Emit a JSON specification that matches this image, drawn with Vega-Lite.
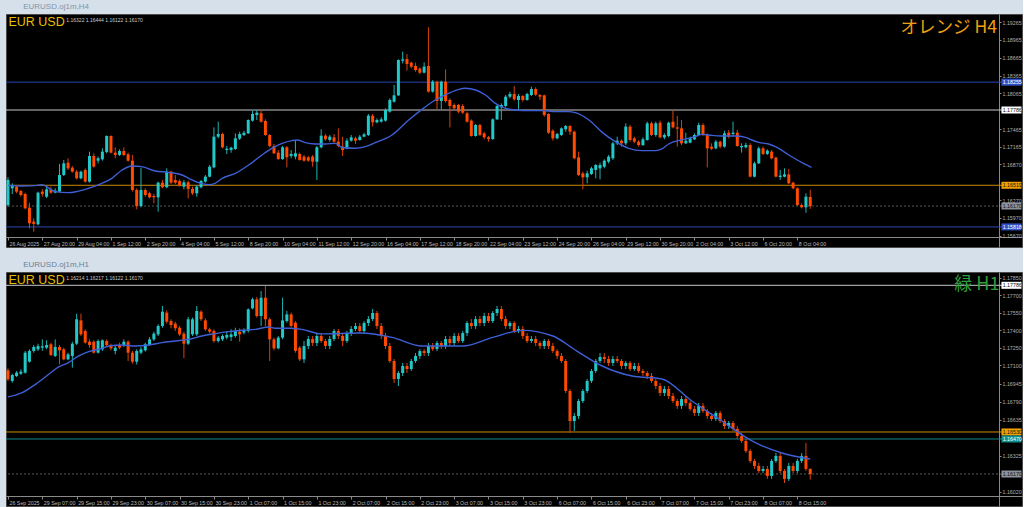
{
"$schema":"https://vega.github.io/schema/vega-lite/v6.json",
"background":"#d5e0eb",
"padding":{"left":4,"top":2,"right":0,"bottom":0},
"spacing":12,
"config":{"view":{"fill":"#000000","stroke":"#4a4a4a"},"axis":{"grid":false,"title":null,"tickCount":100,"labelOverlap":false,"labelFlush":false,"labelFont":"Liberation Sans","labelFontSize":5.3,"tickColor":"#8a8a8a","domainColor":"#8a8a8a"}},
"datasets":{
"h4":[
{"i":0,"o":1.16187,"h":1.16653,"l":1.16159,"c":1.16608},{"i":1,"o":1.16468,"h":1.16552,"l":1.16372,"c":1.16513},{"i":2,"o":1.16496,"h":1.16518,"l":1.16384,"c":1.16412},{"i":3,"o":1.16423,"h":1.1644,"l":1.16327,"c":1.16355},{"i":4,"o":1.16373,"h":1.16395,"l":1.16114,"c":1.16131},{"i":5,"o":1.16142,"h":1.16226,"l":1.15794,"c":1.15879},{"i":6,"o":1.15907,"h":1.15963,"l":1.15738,"c":1.15868},{"i":7,"o":1.15862,"h":1.16412,"l":1.15845,"c":1.16395},{"i":8,"o":1.16412,"h":1.16451,"l":1.16327,"c":1.16373},{"i":9,"o":1.16327,"h":1.16496,"l":1.16305,"c":1.16451},
{"i":10,"o":1.16451,"h":1.16496,"l":1.16373,"c":1.16395},{"i":11,"o":1.16395,"h":1.16468,"l":1.16384,"c":1.16429},{"i":12,"o":1.16412,"h":1.16877,"l":1.16395,"c":1.16692},{"i":13,"o":1.16692,"h":1.16945,"l":1.16675,"c":1.16888},{"i":14,"o":1.16899,"h":1.16973,"l":1.16776,"c":1.16804},{"i":15,"o":1.16815,"h":1.16843,"l":1.16731,"c":1.16748},{"i":16,"o":1.16748,"h":1.16776,"l":1.16619,"c":1.16636},{"i":17,"o":1.16636,"h":1.16765,"l":1.16619,"c":1.16748},{"i":18,"o":1.16776,"h":1.16804,"l":1.16563,"c":1.1658},{"i":19,"o":1.1658,"h":1.17085,"l":1.16563,"c":1.17012},
{"i":20,"o":1.17012,"h":1.17057,"l":1.16815,"c":1.16832},{"i":21,"o":1.16933,"h":1.17001,"l":1.16888,"c":1.16973},{"i":22,"o":1.16956,"h":1.17141,"l":1.16933,"c":1.17085},{"i":23,"o":1.17079,"h":1.17359,"l":1.17057,"c":1.17348},{"i":24,"o":1.17348,"h":1.17359,"l":1.17057,"c":1.17068},{"i":25,"o":1.17068,"h":1.17158,"l":1.16973,"c":1.17029},{"i":26,"o":1.17029,"h":1.17124,"l":1.17012,"c":1.17096},{"i":27,"o":1.17096,"h":1.17158,"l":1.17012,"c":1.17029},{"i":28,"o":1.1704,"h":1.17068,"l":1.16916,"c":1.16933},{"i":29,"o":1.16933,"h":1.17029,"l":1.16412,"c":1.1644},
{"i":30,"o":1.1644,"h":1.16468,"l":1.16114,"c":1.1617},{"i":31,"o":1.1617,"h":1.16815,"l":1.16148,"c":1.1644},{"i":32,"o":1.1644,"h":1.16468,"l":1.16327,"c":1.16355},{"i":33,"o":1.16384,"h":1.16412,"l":1.16299,"c":1.16316},{"i":34,"o":1.16339,"h":1.16373,"l":1.16215,"c":1.16316},{"i":35,"o":1.16316,"h":1.1658,"l":1.16075,"c":1.16563},{"i":36,"o":1.16563,"h":1.16608,"l":1.16468,"c":1.16485},{"i":37,"o":1.16485,"h":1.16804,"l":1.16468,"c":1.16748},{"i":38,"o":1.16748,"h":1.16765,"l":1.16541,"c":1.16563},{"i":39,"o":1.16608,"h":1.16692,"l":1.16541,"c":1.16563},
{"i":40,"o":1.16591,"h":1.16619,"l":1.16496,"c":1.16513},{"i":41,"o":1.16496,"h":1.16608,"l":1.16451,"c":1.16569},{"i":42,"o":1.16569,"h":1.16597,"l":1.16299,"c":1.16457},{"i":43,"o":1.16457,"h":1.16496,"l":1.16355,"c":1.16384},{"i":44,"o":1.16384,"h":1.16524,"l":1.16327,"c":1.16496},{"i":45,"o":1.16485,"h":1.16608,"l":1.16468,"c":1.16591},{"i":46,"o":1.1658,"h":1.16692,"l":1.16563,"c":1.16664},{"i":47,"o":1.16664,"h":1.1686,"l":1.16653,"c":1.16832},{"i":48,"o":1.16821,"h":1.17494,"l":1.16804,"c":1.17337},{"i":49,"o":1.17337,"h":1.1759,"l":1.17309,"c":1.17382},
{"i":50,"o":1.17382,"h":1.17404,"l":1.17141,"c":1.17158},{"i":51,"o":1.17113,"h":1.1718,"l":1.17046,"c":1.17135},{"i":52,"o":1.17113,"h":1.17169,"l":1.17068,"c":1.17152},{"i":53,"o":1.1713,"h":1.17393,"l":1.17113,"c":1.17309},{"i":54,"o":1.17304,"h":1.17421,"l":1.17281,"c":1.17382},{"i":55,"o":1.17365,"h":1.17438,"l":1.17348,"c":1.17404},{"i":56,"o":1.17393,"h":1.17629,"l":1.17382,"c":1.17618},{"i":57,"o":1.17607,"h":1.17775,"l":1.1759,"c":1.17719},{"i":58,"o":1.17702,"h":1.17786,"l":1.17618,"c":1.17741},{"i":59,"o":1.1773,"h":1.17797,"l":1.17573,"c":1.1759},
{"i":60,"o":1.17601,"h":1.17629,"l":1.17348,"c":1.17365},{"i":61,"o":1.17365,"h":1.17382,"l":1.17158,"c":1.1718},{"i":62,"o":1.1718,"h":1.17214,"l":1.17046,"c":1.17057},{"i":63,"o":1.17068,"h":1.17113,"l":1.16945,"c":1.16961},{"i":64,"o":1.16961,"h":1.1718,"l":1.16945,"c":1.17158},{"i":65,"o":1.17158,"h":1.1718,"l":1.16821,"c":1.1699},{"i":66,"o":1.17012,"h":1.17113,"l":1.16973,"c":1.17046},{"i":67,"o":1.17001,"h":1.17281,"l":1.16956,"c":1.17057},{"i":68,"o":1.17046,"h":1.17068,"l":1.16933,"c":1.16945},{"i":69,"o":1.17001,"h":1.17029,"l":1.16916,"c":1.16933},
{"i":70,"o":1.1699,"h":1.17012,"l":1.16916,"c":1.16933},{"i":71,"o":1.17001,"h":1.17029,"l":1.16832,"c":1.16916},{"i":72,"o":1.16916,"h":1.1718,"l":1.16608,"c":1.17158},{"i":73,"o":1.17158,"h":1.17461,"l":1.17141,"c":1.17354},{"i":74,"o":1.17354,"h":1.17382,"l":1.1727,"c":1.17292},{"i":75,"o":1.17281,"h":1.17365,"l":1.17253,"c":1.17337},{"i":76,"o":1.17326,"h":1.17382,"l":1.17236,"c":1.17253},{"i":77,"o":1.17253,"h":1.17478,"l":1.17158,"c":1.1718},{"i":78,"o":1.17169,"h":1.17337,"l":1.17012,"c":1.17113},{"i":79,"o":1.17141,"h":1.17309,"l":1.17124,"c":1.1727},
{"i":80,"o":1.1727,"h":1.17365,"l":1.17253,"c":1.17326},{"i":81,"o":1.17309,"h":1.17337,"l":1.17214,"c":1.1727},{"i":82,"o":1.17281,"h":1.17365,"l":1.1727,"c":1.17337},{"i":83,"o":1.17337,"h":1.17404,"l":1.17326,"c":1.17376},{"i":84,"o":1.17365,"h":1.17719,"l":1.17348,"c":1.17691},{"i":85,"o":1.17691,"h":1.17719,"l":1.17506,"c":1.17578},{"i":86,"o":1.17578,"h":1.17646,"l":1.17562,"c":1.17618},{"i":87,"o":1.1759,"h":1.17663,"l":1.17573,"c":1.17629},{"i":88,"o":1.17607,"h":1.17814,"l":1.1759,"c":1.17786},{"i":89,"o":1.17758,"h":1.17982,"l":1.17741,"c":1.17954},
{"i":90,"o":1.17926,"h":1.18207,"l":1.1791,"c":1.18033},{"i":91,"o":1.18033,"h":1.18639,"l":1.18022,"c":1.18628},{"i":92,"o":1.18616,"h":1.18768,"l":1.18571,"c":1.18639},{"i":93,"o":1.18644,"h":1.18728,"l":1.18448,"c":1.1856},{"i":94,"o":1.18583,"h":1.18599,"l":1.18487,"c":1.18515},{"i":95,"o":1.18527,"h":1.18583,"l":1.18431,"c":1.18459},{"i":96,"o":1.18482,"h":1.18504,"l":1.18392,"c":1.18414},{"i":97,"o":1.18414,"h":1.18588,"l":1.18403,"c":1.18515},{"i":98,"o":1.18527,"h":1.19177,"l":1.18078,"c":1.18095},{"i":99,"o":1.18095,"h":1.18291,"l":1.18078,"c":1.18263},
{"i":100,"o":1.18263,"h":1.1828,"l":1.17797,"c":1.17937},{"i":101,"o":1.17937,"h":1.1828,"l":1.17797,"c":1.18263},{"i":102,"o":1.18263,"h":1.1847,"l":1.1791,"c":1.17937},{"i":103,"o":1.17954,"h":1.17982,"l":1.17494,"c":1.17853},{"i":104,"o":1.1787,"h":1.17898,"l":1.17797,"c":1.17814},{"i":105,"o":1.1787,"h":1.17887,"l":1.1773,"c":1.17758},{"i":106,"o":1.17853,"h":1.17887,"l":1.17719,"c":1.17741},{"i":107,"o":1.1773,"h":1.17758,"l":1.17573,"c":1.1759},{"i":108,"o":1.17607,"h":1.17629,"l":1.17337,"c":1.17348},{"i":109,"o":1.17348,"h":1.1755,"l":1.17337,"c":1.17534},
{"i":110,"o":1.17534,"h":1.1755,"l":1.17348,"c":1.17365},{"i":111,"o":1.17393,"h":1.17421,"l":1.17292,"c":1.17326},{"i":112,"o":1.17326,"h":1.17348,"l":1.17253,"c":1.17298},{"i":113,"o":1.17298,"h":1.17646,"l":1.17281,"c":1.17629},{"i":114,"o":1.17629,"h":1.1787,"l":1.17618,"c":1.17853},{"i":115,"o":1.17831,"h":1.17898,"l":1.17618,"c":1.1787},{"i":116,"o":1.17853,"h":1.18038,"l":1.17831,"c":1.1801},{"i":117,"o":1.1801,"h":1.18095,"l":1.17982,"c":1.18055},{"i":118,"o":1.18055,"h":1.1819,"l":1.17943,"c":1.17966},{"i":119,"o":1.17954,"h":1.18055,"l":1.17797,"c":1.18022},
{"i":120,"o":1.18022,"h":1.18038,"l":1.17926,"c":1.17954},{"i":121,"o":1.17954,"h":1.18078,"l":1.17943,"c":1.18055},{"i":122,"o":1.18038,"h":1.18179,"l":1.18022,"c":1.18139},{"i":123,"o":1.18139,"h":1.18167,"l":1.18022,"c":1.18044},{"i":124,"o":1.18038,"h":1.18055,"l":1.17954,"c":1.1801},{"i":125,"o":1.18033,"h":1.18044,"l":1.17674,"c":1.17702},{"i":126,"o":1.17719,"h":1.1773,"l":1.17382,"c":1.17404},{"i":127,"o":1.17438,"h":1.17461,"l":1.1727,"c":1.17309},{"i":128,"o":1.17309,"h":1.17404,"l":1.17292,"c":1.17382},{"i":129,"o":1.17365,"h":1.17494,"l":1.17348,"c":1.17477},
{"i":130,"o":1.17461,"h":1.17534,"l":1.17421,"c":1.17517},{"i":131,"o":1.17517,"h":1.17534,"l":1.17365,"c":1.17421},{"i":132,"o":1.17421,"h":1.17438,"l":1.16956,"c":1.16973},{"i":133,"o":1.16989,"h":1.17085,"l":1.16675,"c":1.16692},{"i":134,"o":1.1672,"h":1.16748,"l":1.16451,"c":1.16653},{"i":135,"o":1.16653,"h":1.16765,"l":1.16552,"c":1.1672},{"i":136,"o":1.16709,"h":1.16832,"l":1.16692,"c":1.16804},{"i":137,"o":1.16776,"h":1.16877,"l":1.16636,"c":1.1686},{"i":138,"o":1.16804,"h":1.16899,"l":1.16619,"c":1.1686},{"i":139,"o":1.16832,"h":1.16956,"l":1.16804,"c":1.16933},
{"i":140,"o":1.16916,"h":1.17029,"l":1.16888,"c":1.17001},{"i":141,"o":1.16973,"h":1.17253,"l":1.16945,"c":1.17225},{"i":142,"o":1.17225,"h":1.17337,"l":1.17197,"c":1.1727},{"i":143,"o":1.1727,"h":1.17292,"l":1.17169,"c":1.17225},{"i":144,"o":1.17225,"h":1.17562,"l":1.17197,"c":1.17506},{"i":145,"o":1.17506,"h":1.17534,"l":1.17253,"c":1.17281},{"i":146,"o":1.17309,"h":1.17337,"l":1.17225,"c":1.17253},{"i":147,"o":1.17253,"h":1.17281,"l":1.17169,"c":1.17197},{"i":148,"o":1.17197,"h":1.17326,"l":1.1718,"c":1.17292},{"i":149,"o":1.17281,"h":1.1759,"l":1.1727,"c":1.17562},
{"i":150,"o":1.17562,"h":1.1759,"l":1.17348,"c":1.17365},{"i":151,"o":1.17365,"h":1.1759,"l":1.17337,"c":1.17562},{"i":152,"o":1.17573,"h":1.17607,"l":1.17309,"c":1.17326},{"i":153,"o":1.17326,"h":1.17393,"l":1.17292,"c":1.17365},{"i":154,"o":1.17348,"h":1.1759,"l":1.17326,"c":1.17573},{"i":155,"o":1.1759,"h":1.17775,"l":1.17477,"c":1.17494},{"i":156,"o":1.17494,"h":1.17685,"l":1.17169,"c":1.17472},{"i":157,"o":1.17477,"h":1.17618,"l":1.17197,"c":1.17225},{"i":158,"o":1.17225,"h":1.17404,"l":1.17214,"c":1.1727},{"i":159,"o":1.17236,"h":1.17337,"l":1.17225,"c":1.17309},
{"i":160,"o":1.17292,"h":1.17393,"l":1.17281,"c":1.17365},{"i":161,"o":1.17365,"h":1.17573,"l":1.17348,"c":1.17534},{"i":162,"o":1.17534,"h":1.17562,"l":1.17348,"c":1.17365},{"i":163,"o":1.17365,"h":1.17393,"l":1.16821,"c":1.17141},{"i":164,"o":1.17169,"h":1.17225,"l":1.17113,"c":1.17135},{"i":165,"o":1.17141,"h":1.17281,"l":1.17124,"c":1.17253},{"i":166,"o":1.17253,"h":1.1727,"l":1.17141,"c":1.17169},{"i":167,"o":1.17169,"h":1.17438,"l":1.17152,"c":1.17393},{"i":168,"o":1.17404,"h":1.17449,"l":1.17309,"c":1.17337},{"i":169,"o":1.17382,"h":1.1759,"l":1.17348,"c":1.17404},
{"i":170,"o":1.17404,"h":1.17449,"l":1.17169,"c":1.1718},{"i":171,"o":1.17158,"h":1.17225,"l":1.17068,"c":1.1718},{"i":172,"o":1.17158,"h":1.17236,"l":1.17141,"c":1.17197},{"i":173,"o":1.17197,"h":1.17225,"l":1.16653,"c":1.16664},{"i":174,"o":1.16664,"h":1.16916,"l":1.16653,"c":1.16888},{"i":175,"o":1.16888,"h":1.17169,"l":1.16877,"c":1.17141},{"i":176,"o":1.17141,"h":1.17169,"l":1.17029,"c":1.17046},{"i":177,"o":1.17046,"h":1.17124,"l":1.17029,"c":1.17102},{"i":178,"o":1.17085,"h":1.17113,"l":1.16956,"c":1.16973},{"i":179,"o":1.16984,"h":1.17001,"l":1.16653,"c":1.16664},
{"i":180,"o":1.16658,"h":1.16776,"l":1.16608,"c":1.16681},{"i":181,"o":1.16664,"h":1.16804,"l":1.16653,"c":1.16703},{"i":182,"o":1.16703,"h":1.16793,"l":1.16541,"c":1.16552},{"i":183,"o":1.16563,"h":1.1658,"l":1.16451,"c":1.16468},{"i":184,"o":1.16468,"h":1.16485,"l":1.1617,"c":1.16187},{"i":185,"o":1.16187,"h":1.16215,"l":1.16131,"c":1.16148},{"i":186,"o":1.16148,"h":1.16384,"l":1.16058,"c":1.16327},{"i":187,"o":1.16322,"h":1.16444,"l":1.16122,"c":1.1617}
],
"h4ma":[
{"i":0,"m":1.16518},{"i":3.3,"m":1.16507},{"i":6.4,"m":1.16513},{"i":7.9,"m":1.16529},{"i":11,"m":1.16412},{"i":14.1,"m":1.16395},{"i":18,"m":1.16451},{"i":21.9,"m":1.16552},{"i":24.2,"m":1.16636},{"i":26.6,"m":1.16776},{"i":28.9,"m":1.16843},{"i":31.2,"m":1.16832},{"i":34.3,"m":1.16759},{"i":37.5,"m":1.16737},{"i":40.6,"m":1.16692},{"i":42.1,"m":1.16636},{"i":44.4,"m":1.16563},{"i":46.8,"m":1.16529},{"i":48.3,"m":1.16552},{"i":49.9,"m":1.16636},{"i":53,"m":1.1672},{"i":56.1,"m":1.1686},{"i":59.2,"m":1.17029},{"i":61.5,"m":1.17141},{"i":63.9,"m":1.17225},{"i":66.2,"m":1.1727},{"i":67.4,"m":1.17281},{"i":69.3,"m":1.17236},{"i":71.6,"m":1.17214},{"i":74,"m":1.17214},{"i":76.3,"m":1.17225},{"i":77.9,"m":1.17155},{"i":81,"m":1.17141},{"i":83.3,"m":1.17169},{"i":85.6,"m":1.17236},{"i":89.5,"m":1.17365},{"i":93.4,"m":1.17618},{"i":96.5,"m":1.17797},{"i":99.6,"m":1.17954},{"i":102.7,"m":1.18067},{"i":105.1,"m":1.18134},{"i":106.6,"m":1.18151},{"i":109,"m":1.18123},{"i":111.3,"m":1.18038},{"i":113.6,"m":1.17898},{"i":116,"m":1.17814},{"i":118.3,"m":1.17786},{"i":121.4,"m":1.17775},{"i":124.5,"m":1.17775},{"i":127.6,"m":1.17758},{"i":130.7,"m":1.17758},{"i":132.2,"m":1.17741},{"i":135.4,"m":1.17618},{"i":138.5,"m":1.1741},{"i":141.6,"m":1.17253},{"i":144.7,"m":1.17141},{"i":147.8,"m":1.17102},{"i":150.9,"m":1.17102},{"i":152.4,"m":1.1713},{"i":154,"m":1.17214},{"i":157.1,"m":1.17285},{"i":160.2,"m":1.17337},{"i":161.8,"m":1.17376},{"i":163.3,"m":1.17365},{"i":166.4,"m":1.17348},{"i":169.5,"m":1.17348},{"i":171.9,"m":1.17326},{"i":173.4,"m":1.17281},{"i":175,"m":1.17242},{"i":177.3,"m":1.17214},{"i":178.9,"m":1.17169},{"i":182,"m":1.17029},{"i":185.1,"m":1.169},{"i":187.3,"m":1.16821}
],
"h4lines":[{"p":1.18255,"k":"blue"},{"p":1.17786,"k":"white"},{"p":1.16519,"k":"orange"},{"p":1.1617,"k":"bid"},{"p":1.15818,"k":"blue"}],
"h1":[
{"i":0,"o":1.17058,"h":1.17075,"l":1.16967,"c":1.16981},{"i":1,"o":1.16967,"h":1.17029,"l":1.16952,"c":1.17018},{"i":2,"o":1.17009,"h":1.17052,"l":1.17001,"c":1.17038},{"i":3,"o":1.17029,"h":1.17067,"l":1.17018,"c":1.17047},{"i":4,"o":1.17038,"h":1.17224,"l":1.17029,"c":1.17209},{"i":5,"o":1.17132,"h":1.17238,"l":1.17124,"c":1.17224},{"i":6,"o":1.17224,"h":1.17275,"l":1.17209,"c":1.17258},{"i":7,"o":1.17238,"h":1.17286,"l":1.17224,"c":1.17266},{"i":8,"o":1.17252,"h":1.17323,"l":1.17224,"c":1.17264},{"i":9,"o":1.17252,"h":1.17315,"l":1.17238,"c":1.17275},
{"i":10,"o":1.17281,"h":1.17295,"l":1.17181,"c":1.17189},{"i":11,"o":1.17181,"h":1.17323,"l":1.17172,"c":1.17258},{"i":12,"o":1.17258,"h":1.17275,"l":1.17109,"c":1.17229},{"i":13,"o":1.17238,"h":1.17252,"l":1.17144,"c":1.17152},{"i":14,"o":1.17152,"h":1.17209,"l":1.17144,"c":1.17195},{"i":15,"o":1.17181,"h":1.17303,"l":1.17081,"c":1.17286},{"i":16,"o":1.17286,"h":1.17543,"l":1.17275,"c":1.17495},{"i":17,"o":1.17486,"h":1.17543,"l":1.17352,"c":1.17366},{"i":18,"o":1.17395,"h":1.17409,"l":1.17286,"c":1.17295},{"i":19,"o":1.17303,"h":1.17323,"l":1.17252,"c":1.17275},
{"i":20,"o":1.17303,"h":1.17315,"l":1.17201,"c":1.17209},{"i":21,"o":1.17209,"h":1.17323,"l":1.17201,"c":1.17309},{"i":22,"o":1.17238,"h":1.17323,"l":1.17224,"c":1.17315},{"i":23,"o":1.17309,"h":1.17323,"l":1.17258,"c":1.17275},{"i":24,"o":1.17275,"h":1.17286,"l":1.17229,"c":1.17246},{"i":25,"o":1.17224,"h":1.17275,"l":1.17195,"c":1.17252},{"i":26,"o":1.17275,"h":1.17295,"l":1.17238,"c":1.17252},{"i":27,"o":1.17275,"h":1.17323,"l":1.17258,"c":1.17303},{"i":28,"o":1.17303,"h":1.17315,"l":1.17138,"c":1.17209},{"i":29,"o":1.17209,"h":1.17224,"l":1.17115,"c":1.17132},
{"i":30,"o":1.17132,"h":1.17238,"l":1.17109,"c":1.17224},{"i":31,"o":1.17209,"h":1.17258,"l":1.17195,"c":1.17238},{"i":32,"o":1.17229,"h":1.17295,"l":1.17218,"c":1.17281},{"i":33,"o":1.17275,"h":1.17343,"l":1.17266,"c":1.17323},{"i":34,"o":1.17323,"h":1.17389,"l":1.17309,"c":1.17372},{"i":35,"o":1.17366,"h":1.17452,"l":1.17352,"c":1.17438},{"i":36,"o":1.17438,"h":1.17609,"l":1.17423,"c":1.1756},{"i":37,"o":1.17552,"h":1.17572,"l":1.17458,"c":1.17475},{"i":38,"o":1.1748,"h":1.17495,"l":1.17418,"c":1.17446},{"i":39,"o":1.17458,"h":1.17475,"l":1.17395,"c":1.17418},
{"i":40,"o":1.17423,"h":1.17438,"l":1.17352,"c":1.17366},{"i":41,"o":1.17372,"h":1.17389,"l":1.17161,"c":1.17286},{"i":42,"o":1.17286,"h":1.17515,"l":1.17275,"c":1.17495},{"i":43,"o":1.17366,"h":1.17509,"l":1.17352,"c":1.17495},{"i":44,"o":1.17366,"h":1.17609,"l":1.17352,"c":1.17566},{"i":45,"o":1.1756,"h":1.17572,"l":1.1748,"c":1.17495},{"i":46,"o":1.17486,"h":1.17503,"l":1.17395,"c":1.17409},{"i":47,"o":1.17409,"h":1.17423,"l":1.17372,"c":1.17389},{"i":48,"o":1.17395,"h":1.17409,"l":1.17295,"c":1.17309},{"i":49,"o":1.17309,"h":1.17352,"l":1.17295,"c":1.17338},
{"i":50,"o":1.17323,"h":1.17366,"l":1.17309,"c":1.17352},{"i":51,"o":1.17338,"h":1.17395,"l":1.17323,"c":1.17361},{"i":52,"o":1.17343,"h":1.17409,"l":1.17309,"c":1.17366},{"i":53,"o":1.17352,"h":1.17423,"l":1.17338,"c":1.17395},{"i":54,"o":1.17389,"h":1.17418,"l":1.17303,"c":1.17366},{"i":55,"o":1.17381,"h":1.17418,"l":1.17366,"c":1.17401},{"i":56,"o":1.17395,"h":1.17589,"l":1.17381,"c":1.1758},{"i":57,"o":1.17589,"h":1.1768,"l":1.1758,"c":1.17666},{"i":58,"o":1.17666,"h":1.17686,"l":1.17509,"c":1.17523},{"i":59,"o":1.17523,"h":1.17737,"l":1.17438,"c":1.1768},
{"i":60,"o":1.1768,"h":1.1778,"l":1.17438,"c":1.17495},{"i":61,"o":1.17495,"h":1.17509,"l":1.17138,"c":1.17323},{"i":62,"o":1.17323,"h":1.17338,"l":1.17229,"c":1.17246},{"i":63,"o":1.17246,"h":1.17352,"l":1.17238,"c":1.17338},{"i":64,"o":1.17338,"h":1.1768,"l":1.17323,"c":1.17486},{"i":65,"o":1.1748,"h":1.17566,"l":1.17466,"c":1.17537},{"i":66,"o":1.17537,"h":1.17552,"l":1.17423,"c":1.17438},{"i":67,"o":1.17466,"h":1.1748,"l":1.17209,"c":1.17224},{"i":68,"o":1.17252,"h":1.17266,"l":1.17138,"c":1.17152},{"i":69,"o":1.17152,"h":1.17309,"l":1.17121,"c":1.17266},
{"i":70,"o":1.17266,"h":1.17352,"l":1.1724,"c":1.17326},{"i":71,"o":1.17326,"h":1.17352,"l":1.17266,"c":1.17292},{"i":72,"o":1.17292,"h":1.17377,"l":1.17266,"c":1.17352},{"i":73,"o":1.17352,"h":1.17377,"l":1.17292,"c":1.17309},{"i":74,"o":1.17309,"h":1.17326,"l":1.1724,"c":1.17266},{"i":75,"o":1.17266,"h":1.17352,"l":1.1724,"c":1.17326},{"i":76,"o":1.17326,"h":1.17412,"l":1.17309,"c":1.17395},{"i":77,"o":1.17395,"h":1.17412,"l":1.17326,"c":1.17352},{"i":78,"o":1.17352,"h":1.17377,"l":1.17266,"c":1.17309},{"i":79,"o":1.17309,"h":1.17395,"l":1.17292,"c":1.17377},
{"i":80,"o":1.17377,"h":1.17437,"l":1.17352,"c":1.17412},{"i":81,"o":1.17412,"h":1.17463,"l":1.17395,"c":1.17437},{"i":82,"o":1.17437,"h":1.17463,"l":1.17377,"c":1.17395},{"i":83,"o":1.17395,"h":1.1748,"l":1.17377,"c":1.17463},{"i":84,"o":1.17463,"h":1.17523,"l":1.17437,"c":1.17497},{"i":85,"o":1.17497,"h":1.17583,"l":1.1748,"c":1.17549},{"i":86,"o":1.17549,"h":1.17566,"l":1.17412,"c":1.17437},{"i":87,"o":1.17437,"h":1.17463,"l":1.17326,"c":1.17352},{"i":88,"o":1.17352,"h":1.17377,"l":1.1724,"c":1.17266},{"i":89,"o":1.17266,"h":1.17292,"l":1.17121,"c":1.17138},
{"i":90,"o":1.17138,"h":1.17155,"l":1.16949,"c":1.16984},{"i":91,"o":1.16984,"h":1.17052,"l":1.16924,"c":1.17035},{"i":92,"o":1.17035,"h":1.17121,"l":1.17009,"c":1.17095},{"i":93,"o":1.17095,"h":1.17121,"l":1.17035,"c":1.17069},{"i":94,"o":1.17069,"h":1.17155,"l":1.17052,"c":1.17138},{"i":95,"o":1.17138,"h":1.17206,"l":1.17121,"c":1.17181},{"i":96,"o":1.17181,"h":1.1724,"l":1.17155,"c":1.17223},{"i":97,"o":1.17223,"h":1.1724,"l":1.17181,"c":1.17206},{"i":98,"o":1.17206,"h":1.17292,"l":1.17181,"c":1.17266},{"i":99,"o":1.17266,"h":1.17292,"l":1.17223,"c":1.1724},
{"i":100,"o":1.1724,"h":1.17309,"l":1.17223,"c":1.17292},{"i":101,"o":1.17292,"h":1.17309,"l":1.1724,"c":1.17266},{"i":102,"o":1.17266,"h":1.17352,"l":1.1724,"c":1.17326},{"i":103,"o":1.17326,"h":1.17352,"l":1.17266,"c":1.17292},{"i":104,"o":1.17292,"h":1.17377,"l":1.17266,"c":1.17352},{"i":105,"o":1.17352,"h":1.17377,"l":1.17292,"c":1.17309},{"i":106,"o":1.17309,"h":1.17395,"l":1.17292,"c":1.17377},{"i":107,"o":1.17377,"h":1.1748,"l":1.17352,"c":1.17463},{"i":108,"o":1.17463,"h":1.17497,"l":1.17412,"c":1.17437},{"i":109,"o":1.17437,"h":1.17523,"l":1.17412,"c":1.17497},
{"i":110,"o":1.17497,"h":1.17523,"l":1.17437,"c":1.17463},{"i":111,"o":1.17463,"h":1.17549,"l":1.17437,"c":1.17523},{"i":112,"o":1.17523,"h":1.17549,"l":1.17463,"c":1.1748},{"i":113,"o":1.1748,"h":1.17566,"l":1.17463,"c":1.17549},{"i":114,"o":1.17549,"h":1.17609,"l":1.17523,"c":1.17583},{"i":115,"o":1.17583,"h":1.17609,"l":1.1748,"c":1.17497},{"i":116,"o":1.17497,"h":1.17523,"l":1.17412,"c":1.17437},{"i":117,"o":1.17437,"h":1.1748,"l":1.17412,"c":1.17463},{"i":118,"o":1.17463,"h":1.1748,"l":1.17377,"c":1.17395},{"i":119,"o":1.17395,"h":1.17437,"l":1.17377,"c":1.17412},
{"i":120,"o":1.17412,"h":1.17437,"l":1.17326,"c":1.17352},{"i":121,"o":1.17352,"h":1.17377,"l":1.17292,"c":1.17309},{"i":122,"o":1.17309,"h":1.17352,"l":1.17292,"c":1.17326},{"i":123,"o":1.17326,"h":1.17352,"l":1.17266,"c":1.17292},{"i":124,"o":1.17292,"h":1.17309,"l":1.1724,"c":1.17266},{"i":125,"o":1.17266,"h":1.17326,"l":1.1724,"c":1.17309},{"i":126,"o":1.17309,"h":1.17326,"l":1.1724,"c":1.17266},{"i":127,"o":1.17266,"h":1.17292,"l":1.17206,"c":1.17223},{"i":128,"o":1.17223,"h":1.1724,"l":1.17155,"c":1.17181},{"i":129,"o":1.17181,"h":1.17206,"l":1.17121,"c":1.17138},
{"i":130,"o":1.17138,"h":1.17155,"l":1.16864,"c":1.16881},{"i":131,"o":1.16881,"h":1.16898,"l":1.16521,"c":1.16624},{"i":132,"o":1.16624,"h":1.16693,"l":1.16539,"c":1.16667},{"i":133,"o":1.16667,"h":1.16812,"l":1.16641,"c":1.16795},{"i":134,"o":1.16795,"h":1.16898,"l":1.16778,"c":1.16881},{"i":135,"o":1.16881,"h":1.16984,"l":1.16864,"c":1.16967},{"i":136,"o":1.16967,"h":1.17069,"l":1.16949,"c":1.17052},{"i":137,"o":1.17052,"h":1.17155,"l":1.17035,"c":1.17138},{"i":138,"o":1.17138,"h":1.17206,"l":1.17121,"c":1.17172},{"i":139,"o":1.17172,"h":1.17206,"l":1.17121,"c":1.17155},
{"i":140,"o":1.17155,"h":1.17181,"l":1.17095,"c":1.17121},{"i":141,"o":1.17121,"h":1.17181,"l":1.17095,"c":1.17155},{"i":142,"o":1.17155,"h":1.17181,"l":1.17121,"c":1.17138},{"i":143,"o":1.17138,"h":1.17155,"l":1.17069,"c":1.17095},{"i":144,"o":1.17095,"h":1.17138,"l":1.17069,"c":1.17121},{"i":145,"o":1.17121,"h":1.17138,"l":1.17052,"c":1.17069},{"i":146,"o":1.17069,"h":1.17121,"l":1.17052,"c":1.17095},{"i":147,"o":1.17095,"h":1.17121,"l":1.17035,"c":1.17052},{"i":148,"o":1.17052,"h":1.17069,"l":1.17009,"c":1.17035},{"i":149,"o":1.17035,"h":1.17052,"l":1.16984,"c":1.17009},
{"i":150,"o":1.17009,"h":1.17035,"l":1.16949,"c":1.16967},{"i":151,"o":1.16967,"h":1.16984,"l":1.16898,"c":1.16924},{"i":152,"o":1.16924,"h":1.16949,"l":1.16838,"c":1.16864},{"i":153,"o":1.16864,"h":1.16924,"l":1.16838,"c":1.16898},{"i":154,"o":1.16898,"h":1.16924,"l":1.16812,"c":1.16838},{"i":155,"o":1.16838,"h":1.16864,"l":1.16778,"c":1.16795},{"i":156,"o":1.16795,"h":1.16812,"l":1.16727,"c":1.16753},{"i":157,"o":1.16753,"h":1.16838,"l":1.16727,"c":1.16812},{"i":158,"o":1.16812,"h":1.16838,"l":1.16753,"c":1.16778},{"i":159,"o":1.16778,"h":1.16795,"l":1.1671,"c":1.16727},
{"i":160,"o":1.16727,"h":1.16753,"l":1.16667,"c":1.16693},{"i":161,"o":1.16693,"h":1.16778,"l":1.16667,"c":1.16753},{"i":162,"o":1.16753,"h":1.16778,"l":1.16693,"c":1.1671},{"i":163,"o":1.1671,"h":1.16727,"l":1.16641,"c":1.16667},{"i":164,"o":1.16667,"h":1.16693,"l":1.16624,"c":1.16641},{"i":165,"o":1.16641,"h":1.1671,"l":1.16624,"c":1.16693},{"i":166,"o":1.16693,"h":1.1671,"l":1.16607,"c":1.16624},{"i":167,"o":1.16624,"h":1.16641,"l":1.16556,"c":1.16581},{"i":168,"o":1.16581,"h":1.16624,"l":1.16556,"c":1.16607},{"i":169,"o":1.16607,"h":1.16624,"l":1.16539,"c":1.16556},
{"i":170,"o":1.16556,"h":1.16581,"l":1.1647,"c":1.16496},{"i":171,"o":1.16496,"h":1.16521,"l":1.16436,"c":1.16453},{"i":172,"o":1.16453,"h":1.1647,"l":1.1635,"c":1.16367},{"i":173,"o":1.16367,"h":1.16384,"l":1.16265,"c":1.16282},{"i":174,"o":1.16282,"h":1.16299,"l":1.16213,"c":1.16239},{"i":175,"o":1.16239,"h":1.16265,"l":1.16179,"c":1.16196},{"i":176,"o":1.16196,"h":1.16239,"l":1.16179,"c":1.16213},{"i":177,"o":1.16213,"h":1.16239,"l":1.16128,"c":1.16153},{"i":178,"o":1.16153,"h":1.16299,"l":1.16128,"c":1.16282},{"i":179,"o":1.16282,"h":1.1635,"l":1.16265,"c":1.16325},
{"i":180,"o":1.16325,"h":1.1635,"l":1.16179,"c":1.16196},{"i":181,"o":1.16196,"h":1.16213,"l":1.16093,"c":1.16128},{"i":182,"o":1.16128,"h":1.16265,"l":1.16111,"c":1.16239},{"i":183,"o":1.16239,"h":1.16265,"l":1.16179,"c":1.16196},{"i":184,"o":1.16196,"h":1.16299,"l":1.16179,"c":1.16282},{"i":185,"o":1.16282,"h":1.1635,"l":1.16265,"c":1.16325},{"i":186,"o":1.16325,"h":1.16436,"l":1.16196,"c":1.16214},{"i":187,"o":1.16214,"h":1.16217,"l":1.16122,"c":1.1617}
],
"h1ma":[
{"i":0,"m":1.1683},{"i":3.3,"m":1.16867},{"i":6.4,"m":1.16938},{"i":9.5,"m":1.17024},{"i":11.8,"m":1.17087},{"i":14.1,"m":1.17124},{"i":16.5,"m":1.17181},{"i":18.8,"m":1.17218},{"i":21.9,"m":1.17246},{"i":23.5,"m":1.17266},{"i":26.6,"m":1.17275},{"i":29.7,"m":1.17266},{"i":32.8,"m":1.17275},{"i":35.9,"m":1.17295},{"i":39,"m":1.17309},{"i":42.1,"m":1.17323},{"i":45.2,"m":1.17352},{"i":48.3,"m":1.17372},{"i":51.4,"m":1.17389},{"i":54.5,"m":1.17401},{"i":57.7,"m":1.17409},{"i":60.8,"m":1.17429},{"i":62.3,"m":1.17418},{"i":65.4,"m":1.17418},{"i":68.5,"m":1.17409},{"i":73,"m":1.1737},{"i":82,"m":1.17377},{"i":89.5,"m":1.1734},{"i":96.5,"m":1.17266},{"i":106,"m":1.17266},{"i":113,"m":1.1734},{"i":120,"m":1.174},{"i":127,"m":1.17352},{"i":132.6,"m":1.17223},{"i":138.5,"m":1.17095},{"i":145.5,"m":1.17009},{"i":152.4,"m":1.16984},{"i":159.4,"m":1.16795},{"i":166.4,"m":1.16624},{"i":173.4,"m":1.16453},{"i":180.4,"m":1.1635},{"i":187,"m":1.16299}
],
"h1lines":[{"p":1.17786,"k":"white"},{"p":1.1653,"k":"orange"},{"p":1.1647,"k":"teal"},{"p":1.1617,"k":"bid"}]
},
"vconcat":[
{
"title":{"text":"EURUSD.oj1m,H4","anchor":"start","fontSize":8,"font":"Liberation Sans","fontWeight":"normal","color":"#8494a8","offset":3,"dx":18},
"width":1016,"height":233,
"layer":[
{"data":{"name":"h4lines"},"transform":[{"filter":"datum.k!='bid'"}],"mark":{"type":"rule","strokeWidth":1},
"encoding":{"y":{"field":"p","type":"quantitative","title":null,"scale":{"domain":[1.1548,1.19402],"nice":false,"zero":false,"padding":0}},
"color":{"field":"k","type":"nominal","scale":{"domain":["blue","white","orange","teal","bid"],"range":["#2c46b4","#c8c8c8","#c98a00","#128a8a","#606060"]},"legend":null}}},
{"data":{"name":"h4lines"},"transform":[{"filter":"datum.k=='bid'"}],"mark":{"type":"rule","strokeWidth":1,"strokeDash":[2,2],"color":"#5a5a5a"},
"encoding":{"y":{"field":"p","type":"quantitative","title":null,"scale":{"domain":[1.1548,1.19402],"nice":false,"zero":false,"padding":0}}}},
{"data":{"name":"h4"},"mark":{"type":"rule","strokeWidth":1},
"encoding":{"x":{"field":"i","type":"quantitative","title":null,"scale":{"domain":[-0.466,236.36],"nice":false,"zero":false,"padding":0},
"axis":{"orient":"bottom","offset":-10,"title":null,"tickCount":100,"values":[0,8,16,24,32,40,48,56,64,72,80,88,96,104,112,120,128,136,144,152,160,168,176,184],
"labelExpr":"datum.value==0?'26 Aug 2025':datum.value==8?'27 Aug 20:00':datum.value==16?'29 Aug 04:00':datum.value==24?'1 Sep 12:00':datum.value==32?'2 Sep 20:00':datum.value==40?'4 Sep 04:00':datum.value==48?'5 Sep 12:00':datum.value==56?'8 Sep 20:00':datum.value==64?'10 Sep 04:00':datum.value==72?'11 Sep 12:00':datum.value==80?'12 Sep 20:00':datum.value==88?'16 Sep 04:00':datum.value==96?'17 Sep 12:00':datum.value==104?'18 Sep 20:00':datum.value==112?'22 Sep 04:00':datum.value==120?'23 Sep 12:00':datum.value==128?'24 Sep 20:00':datum.value==136?'26 Sep 04:00':datum.value==144?'29 Sep 12:00':datum.value==152?'30 Sep 20:00':datum.value==160?'2 Oct 04:00':datum.value==168?'3 Oct 12:00':datum.value==176?'6 Oct 20:00':'8 Oct 04:00'",
"labelAlign":"left","labelBaseline":"top","labelPadding":1,"labelOffset":1,"labelColor":"#bcbcbc","tickSize":3,"labelOverlap":false,"labelFlush":false,"grid":false}},
"y":{"field":"l","type":"quantitative","title":null,"scale":{"domain":[1.1548,1.19402],"nice":false,"zero":false,"padding":0},
"axis":{"orient":"right","offset":-23,"title":null,"tickCount":100,"values":[1.19265,1.18965,1.18665,1.18365,1.18065,1.17465,1.17165,1.1687,1.1627,1.1597,1.1567],"format":".5f","labelColor":"#b0b0b0","tickSize":2,"labelPadding":1,"labelFlush":false,"labelOverlap":false,"grid":false}},
"y2":{"field":"h","title":null},
"color":{"condition":{"test":"datum.c>=datum.o","value":"#1fb4b4"},"value":"#d8400c"}}},
{"data":{"name":"h4"},"mark":{"type":"bar","width":3},
"encoding":{"x":{"field":"i","type":"quantitative","title":null,"scale":{"domain":[-0.466,236.36],"nice":false,"zero":false,"padding":0}},
"y":{"field":"o","type":"quantitative","title":null,"scale":{"domain":[1.1548,1.19402],"nice":false,"zero":false,"padding":0}},
"y2":{"field":"c","title":null},
"color":{"condition":{"test":"datum.c>=datum.o","value":"#22c8c8"},"value":"#ff4a00"}}},
{"data":{"name":"h4ma"},"mark":{"type":"line","color":"#3e5fd6","strokeWidth":1.4,"interpolate":"monotone"},
"encoding":{"x":{"field":"i","type":"quantitative","title":null,"scale":{"domain":[-0.466,236.36],"nice":false,"zero":false,"padding":0}},
"y":{"field":"m","type":"quantitative","title":null,"scale":{"domain":[1.1548,1.19402],"nice":false,"zero":false,"padding":0}}}},
{"data":{"name":"h4lines"},"mark":{"type":"tick","orient":"horizontal","size":20,"thickness":7,"opacity":1},
"encoding":{"x":{"datum":233.9,"type":"quantitative","title":null,"scale":{"domain":[-0.466,236.36],"nice":false,"zero":false,"padding":0}},
"y":{"field":"p","type":"quantitative","title":null,"scale":{"domain":[1.1548,1.19402],"nice":false,"zero":false,"padding":0}},
"fill":{"field":"k","type":"nominal","scale":{"domain":["blue","white","orange","teal","bid"],"range":["#3252c8","#ffffff","#f0a000","#119090","#8c939c"]},"legend":null}}},
{"data":{"name":"h4lines"},"mark":{"type":"text","align":"left","baseline":"middle","fontSize":5.3,"font":"Liberation Sans"},
"encoding":{"x":{"datum":231.85,"type":"quantitative","title":null,"scale":{"domain":[-0.466,236.36],"nice":false,"zero":false,"padding":0}},
"y":{"field":"p","type":"quantitative","title":null,"scale":{"domain":[1.1548,1.19402],"nice":false,"zero":false,"padding":0}},
"text":{"field":"p","type":"quantitative","format":".5f"},
"color":{"condition":{"test":"datum.k=='blue'||datum.k=='teal'","value":"#ffffff"},"value":"#111111"}}},
{"data":{"values":[{"t":"1.16322 1.16444 1.16122 1.16170"}]},"mark":{"type":"text","align":"left","baseline":"middle","fontSize":5,"font":"Liberation Sans","color":"#c8c8c8"},
"encoding":{"x":{"datum":13.6,"type":"quantitative","title":null,"scale":{"domain":[-0.466,236.36],"nice":false,"zero":false,"padding":0}},
"y":{"datum":1.19301,"type":"quantitative","title":null,"scale":{"domain":[1.1548,1.19402],"nice":false,"zero":false,"padding":0}},"text":{"field":"t"}}},
{"data":{"values":[{"t":"EUR USD"}]},"mark":{"type":"text","align":"left","baseline":"middle","fontSize":12.5,"font":"Liberation Sans","color":"#e8bf00"},
"encoding":{"x":{"datum":0.1,"type":"quantitative","title":null,"scale":{"domain":[-0.466,236.36],"nice":false,"zero":false,"padding":0}},
"y":{"datum":1.19268,"type":"quantitative","title":null,"scale":{"domain":[1.1548,1.19402],"nice":false,"zero":false,"padding":0}},"text":{"field":"t"}}},
{"data":{"values":[{"t":"オレンジ H4"}]},"mark":{"type":"text","align":"right","baseline":"middle","fontSize":17.5,"font":"Noto Sans CJK JP","color":"#f0a010"},
"encoding":{"x":{"datum":230.5,"type":"quantitative","title":null,"scale":{"domain":[-0.466,236.36],"nice":false,"zero":false,"padding":0}},
"y":{"datum":1.19158,"type":"quantitative","title":null,"scale":{"domain":[1.1548,1.19402],"nice":false,"zero":false,"padding":0}},"text":{"field":"t"}}}
]
},
{
"title":{"text":"EURUSD.oj1m,H1","anchor":"start","fontSize":8,"font":"Liberation Sans","fontWeight":"normal","color":"#6d7f96","offset":3,"dx":18},
"width":1016,"height":234,
"layer":[
{"data":{"name":"h1lines"},"transform":[{"filter":"datum.k!='bid'"}],"mark":{"type":"rule","strokeWidth":1},
"encoding":{"y":{"field":"p","type":"quantitative","title":null,"scale":{"domain":[1.15896,1.179],"nice":false,"zero":false,"padding":0}},
"color":{"field":"k","type":"nominal","scale":{"domain":["blue","white","orange","teal","bid"],"range":["#2c46b4","#c8c8c8","#c98a00","#128a8a","#606060"]},"legend":null}}},
{"data":{"name":"h1lines"},"transform":[{"filter":"datum.k=='bid'"}],"mark":{"type":"rule","strokeWidth":1,"strokeDash":[2,2],"color":"#5a5a5a"},
"encoding":{"y":{"field":"p","type":"quantitative","title":null,"scale":{"domain":[1.15896,1.179],"nice":false,"zero":false,"padding":0}}}},
{"data":{"name":"h1"},"mark":{"type":"rule","strokeWidth":1},
"encoding":{"x":{"field":"i","type":"quantitative","title":null,"scale":{"domain":[-0.466,236.36],"nice":false,"zero":false,"padding":0},
"axis":{"orient":"bottom","offset":-10,"title":null,"tickCount":100,"values":[0,8,16,24,32,40,48,56,64,72,80,88,96,104,112,120,128,136,144,152,160,168,176,184],
"labelExpr":"datum.value==0?'26 Sep 2025':datum.value==8?'29 Sep 07:00':datum.value==16?'29 Sep 15:00':datum.value==24?'29 Sep 23:00':datum.value==32?'30 Sep 07:00':datum.value==40?'30 Sep 15:00':datum.value==48?'30 Sep 23:00':datum.value==56?'1 Oct 07:00':datum.value==64?'1 Oct 15:00':datum.value==72?'1 Oct 23:00':datum.value==80?'2 Oct 07:00':datum.value==88?'2 Oct 15:00':datum.value==96?'2 Oct 23:00':datum.value==104?'3 Oct 07:00':datum.value==112?'3 Oct 15:00':datum.value==120?'3 Oct 23:00':datum.value==128?'6 Oct 07:00':datum.value==136?'6 Oct 15:00':datum.value==144?'6 Oct 23:00':datum.value==152?'7 Oct 07:00':datum.value==160?'7 Oct 15:00':datum.value==168?'7 Oct 23:00':datum.value==176?'8 Oct 07:00':'8 Oct 15:00'",
"labelAlign":"left","labelBaseline":"top","labelPadding":1,"labelOffset":1,"labelColor":"#bcbcbc","tickSize":3,"labelOverlap":false,"labelFlush":false,"grid":false}},
"y":{"field":"l","type":"quantitative","title":null,"scale":{"domain":[1.15896,1.179],"nice":false,"zero":false,"padding":0},
"axis":{"orient":"right","offset":-23,"title":null,"tickCount":100,"values":[1.1785,1.177,1.1755,1.174,1.1725,1.171,1.16945,1.1679,1.16635,1.16325,1.1602],"format":".5f","labelColor":"#b0b0b0","tickSize":2,"labelPadding":1,"labelFlush":false,"labelOverlap":false,"grid":false}},
"y2":{"field":"h","title":null},
"color":{"condition":{"test":"datum.c>=datum.o","value":"#1fb4b4"},"value":"#d8400c"}}},
{"data":{"name":"h1"},"mark":{"type":"bar","width":3},
"encoding":{"x":{"field":"i","type":"quantitative","title":null,"scale":{"domain":[-0.466,236.36],"nice":false,"zero":false,"padding":0}},
"y":{"field":"o","type":"quantitative","title":null,"scale":{"domain":[1.15896,1.179],"nice":false,"zero":false,"padding":0}},
"y2":{"field":"c","title":null},
"color":{"condition":{"test":"datum.c>=datum.o","value":"#22c8c8"},"value":"#ff4a00"}}},
{"data":{"name":"h1ma"},"mark":{"type":"line","color":"#3e5fd6","strokeWidth":1.4,"interpolate":"monotone"},
"encoding":{"x":{"field":"i","type":"quantitative","title":null,"scale":{"domain":[-0.466,236.36],"nice":false,"zero":false,"padding":0}},
"y":{"field":"m","type":"quantitative","title":null,"scale":{"domain":[1.15896,1.179],"nice":false,"zero":false,"padding":0}}}},
{"data":{"name":"h1lines"},"mark":{"type":"tick","orient":"horizontal","size":20,"thickness":7,"opacity":1},
"encoding":{"x":{"datum":233.9,"type":"quantitative","title":null,"scale":{"domain":[-0.466,236.36],"nice":false,"zero":false,"padding":0}},
"y":{"field":"p","type":"quantitative","title":null,"scale":{"domain":[1.15896,1.179],"nice":false,"zero":false,"padding":0}},
"fill":{"field":"k","type":"nominal","scale":{"domain":["blue","white","orange","teal","bid"],"range":["#3252c8","#ffffff","#f0a000","#119090","#8c939c"]},"legend":null}}},
{"data":{"name":"h1lines"},"mark":{"type":"text","align":"left","baseline":"middle","fontSize":5.3,"font":"Liberation Sans"},
"encoding":{"x":{"datum":231.85,"type":"quantitative","title":null,"scale":{"domain":[-0.466,236.36],"nice":false,"zero":false,"padding":0}},
"y":{"field":"p","type":"quantitative","title":null,"scale":{"domain":[1.15896,1.179],"nice":false,"zero":false,"padding":0}},
"text":{"field":"p","type":"quantitative","format":".5f"},
"color":{"condition":{"test":"datum.k=='blue'||datum.k=='teal'","value":"#ffffff"},"value":"#111111"}}},
{"data":{"values":[{"t":"1.16214 1.16217 1.16122 1.16170"}]},"mark":{"type":"text","align":"left","baseline":"middle","fontSize":5,"font":"Liberation Sans","color":"#c8c8c8"},
"encoding":{"x":{"datum":13.6,"type":"quantitative","title":null,"scale":{"domain":[-0.466,236.36],"nice":false,"zero":false,"padding":0}},
"y":{"datum":1.17848,"type":"quantitative","title":null,"scale":{"domain":[1.15896,1.179],"nice":false,"zero":false,"padding":0}},"text":{"field":"t"}}},
{"data":{"values":[{"t":"EUR USD"}]},"mark":{"type":"text","align":"left","baseline":"middle","fontSize":12.5,"font":"Liberation Sans","color":"#e8bf00"},
"encoding":{"x":{"datum":0.1,"type":"quantitative","title":null,"scale":{"domain":[-0.466,236.36],"nice":false,"zero":false,"padding":0}},
"y":{"datum":1.17831,"type":"quantitative","title":null,"scale":{"domain":[1.15896,1.179],"nice":false,"zero":false,"padding":0}},"text":{"field":"t"}}},
{"data":{"values":[{"t":"緑 H1"}]},"mark":{"type":"text","align":"right","baseline":"middle","fontSize":18,"font":"Noto Sans CJK JP","color":"#2e9e3a"},
"encoding":{"x":{"datum":231.1,"type":"quantitative","title":null,"scale":{"domain":[-0.466,236.36],"nice":false,"zero":false,"padding":0}},
"y":{"datum":1.17789,"type":"quantitative","title":null,"scale":{"domain":[1.15896,1.179],"nice":false,"zero":false,"padding":0}},"text":{"field":"t"}}}
]
}
]
}
